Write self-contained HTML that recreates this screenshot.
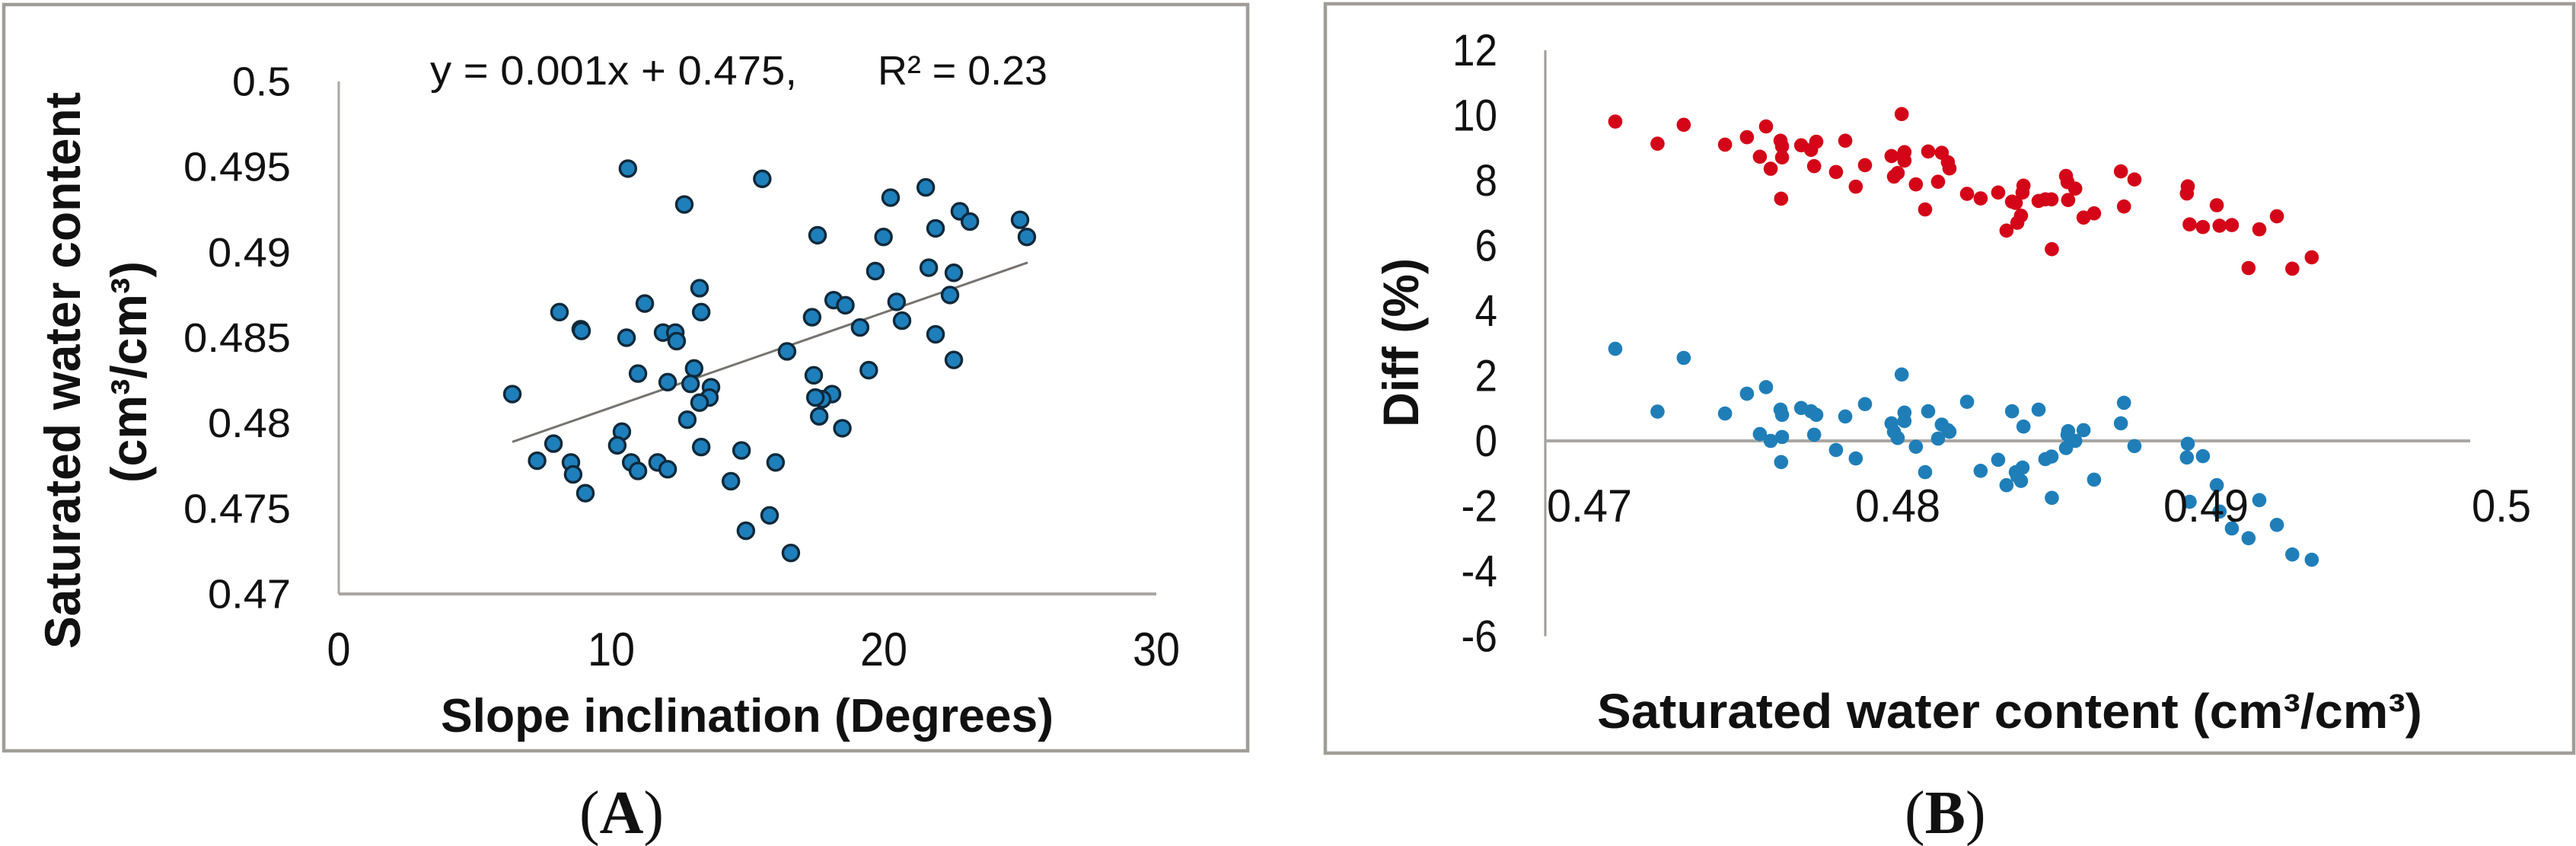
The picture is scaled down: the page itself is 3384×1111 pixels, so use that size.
<!DOCTYPE html>
<html lang="en">
<head>
<meta charset="utf-8">
<title>Saturated water content charts</title>
<style>
html,body{margin:0;padding:0;background:#fff;}
#figure{display:block;width:3384px;height:1111px;}
text{font-family:"Liberation Sans",sans-serif;fill:#111;}
.bold{font-weight:bold;}
.serif{font-family:"Liberation Serif",serif;}
</style>
</head>
<body>
<svg id="figure" xmlns="http://www.w3.org/2000/svg" width="3384" height="1111" viewBox="0 0 3384 1111">
  <rect width="3384" height="1111" fill="#fff"/>
  <rect x="5" y="6" width="1634" height="980" fill="#fff" stroke="#a09d97" stroke-width="4.5"/>
  <rect x="1741" y="5" width="1640" height="984" fill="#fff" stroke="#a09d97" stroke-width="4.5"/>
  <g id="panelA"></g>
  <g id="panelB"></g>

  <text x="565" y="111" font-size="54" textLength="482" lengthAdjust="spacingAndGlyphs">y = 0.001x + 0.475,</text>
  <text x="1153" y="111" font-size="54" textLength="223" lengthAdjust="spacingAndGlyphs">R² = 0.23</text>
  <text class="bold" font-size="66" transform="translate(105,852) rotate(-90)" textLength="731" lengthAdjust="spacingAndGlyphs">Saturated water content</text>
  <text class="bold" font-size="66" transform="translate(192,634) rotate(-90)" textLength="291" lengthAdjust="spacingAndGlyphs">(cm³/cm³)</text>
  <text class="bold" x="579" y="961" font-size="62" textLength="805" lengthAdjust="spacingAndGlyphs">Slope inclination (Degrees)</text>
  <text class="bold" font-size="66" transform="translate(1863,561) rotate(-90)" textLength="222" lengthAdjust="spacingAndGlyphs">Diff (%)</text>
  <text class="bold" x="2098" y="956" font-size="64" textLength="1084" lengthAdjust="spacingAndGlyphs">Saturated water content (cm³/cm³)</text>
  <text class="serif" x="761" y="1094" font-size="80">(<tspan font-weight="bold">A</tspan>)</text>
  <text class="serif" x="2502" y="1094" font-size="80">(<tspan font-weight="bold">B</tspan>)</text>
</svg>
<script>
// Panel A data
const slopeTickValues = [0, 10, 20, 30];
const contentTickValues = [0.47, 0.475, 0.48, 0.485, 0.49, 0.495, 0.5];
const slopeDegrees = [
  10.61,12.68,11.23,8.10,8.88,8.91,10.56,11.90,12.35,12.40,
  10.98,12.07,6.37,15.54,20.25,21.54,22.79,23.16,25.00,25.25,
  17.57,19.99,21.90,19.69,21.65,22.57,13.24,13.30,18.16,18.59,
  20.47,22.43,17.37,20.67,19.13,21.90,22.57,16.45,19.45,17.43,
  18.10,17.74,17.49,17.63,18.48,13.04,12.91,13.66,13.60,13.24,
  12.79,7.88,7.28,8.52,8.60,9.05,10.39,10.22,10.73,10.98,
  11.70,12.07,13.30,14.78,16.03,14.39,15.81,14.94,16.59
];
const contentBySlope = [
  .4949,.4928,.4870,.4865,.4855,.4854,.4850,.4853,.4853,.4848,
  .4829,.4824,.4817,.4943,.4932,.4938,.4924,.4918,.4919,.4909,
  .4910,.4909,.4914,.4889,.4891,.4888,.4879,.4865,.4872,.4869,
  .4871,.4875,.4862,.4860,.4856,.4852,.4837,.4842,.4831,.4828,
  .4817,.4814,.4815,.4804,.4797,.4832,.4823,.4821,.4815,.4812,
  .4802,.4788,.4778,.4777,.4770,.4759,.4795,.4787,.4777,.4772,
  .4777,.4773,.4786,.4784,.4777,.4766,.4746,.4737,.4724
];
const trendSlope = [6.37, 25.28];
const trendContent = [0.4789, 0.4894];

// Panel B data
const ksTickValues = [0.47, 0.48, 0.49, 0.5];
const diffTickValues = [-6, -4, -2, 0, 2, 4, 6, 8, 10, 12];
const ksValues = [
  .47227,.47364,.47449,.47583,.47654,.47716,.47696,.47731,.47763,.47768,
  .47768,.47765,.4783,.47862,.47879,.47872,.47973,.47943,.48037,.48007,
  .48156,.48123,.48165,.48165,.48143,.48131,.48242,.48286,.48306,.48311,
  .48202,.48274,.48232,.48368,.48412,.48469,.48551,.48548,.48514,.48526,
  .48543,.48531,.48496,.486,.48622,.48642,.48643,.48696,.48689,.48694,
  .48719,.48746,.4878,.48867,.48911,.48877,.49084,.49081,.4909,.49133,
  .49178,.49187,.49227,.49316,.49373,.49281,.49423,.49486
];
const redDiff = [
  9.81,9.13,9.71,9.10,9.33,9.66,8.73,8.36,9.22,9.05,
  8.71,7.44,9.08,8.94,9.19,8.44,9.22,8.26,8.47,7.81,
  10.04,8.75,8.87,8.61,8.23,8.12,8.89,8.85,8.56,8.37,
  7.88,7.96,7.11,7.59,7.45,7.63,7.84,7.63,7.35,7.31,
  6.92,6.70,6.46,7.37,7.42,7.42,5.89,7.40,8.14,7.95,
  7.75,6.86,6.99,8.28,8.03,7.20,7.82,7.60,6.65,6.57,
  7.24,6.61,6.63,6.50,6.90,5.31,5.29,5.64
];
const blueDiff = [
  2.83,.90,2.55,.84,1.45,1.65,.21,0,.96,.80,
  .12,-.65,1.01,.91,.80,.19,.75,-.28,1.13,-.54,
  2.04,.54,.87,.61,.09,.28,.91,.50,.33,.28,
  -.18,.07,-.96,1.20,-.92,-.58,.44,-.82,.91,-.96,
  -1.23,-1.08,-1.36,.96,-.56,-.48,-1.75,.30,-.22,.19,
  0,.33,-1.19,.54,-.16,1.17,-.09,-.51,-1.87,-.47,
  -1.36,-2.17,-2.69,-1.82,-2.58,-2.99,-3.49,-3.65
];

const NS = 'http://www.w3.org/2000/svg';
const groupA = document.getElementById('panelA');
const groupB = document.getElementById('panelB');

function sxA(v) { return 445 + (v - 0) * (1519 - 445) / 30; }
function syA(v) { return 780 - (v - 0.47) * (780 - 107) / 0.03; }
function sxB(v) { return 2030 + (v - 0.47) * (3245 - 2030) / 0.03; }
function syB(v) { return 579 - v * 42.75; }

function drawLine(parent, x1, y1, x2, y2, color, width, name) {
  const el = document.createElementNS(NS, 'line');
  el.setAttribute('x1', x1);
  el.setAttribute('y1', y1);
  el.setAttribute('x2', x2);
  el.setAttribute('y2', y2);
  el.setAttribute('stroke', color);
  el.setAttribute('stroke-width', width);
  
  
  parent.appendChild(el);
}

function drawDot(parent, cx, cy, r, fill, stroke, strokeWidth, name) {
  const el = document.createElementNS(NS, 'circle');
  el.setAttribute('cx', cx);
  el.setAttribute('cy', cy);
  el.setAttribute('r', r);
  el.setAttribute('fill', fill);
  if (stroke) {
    el.setAttribute('stroke', stroke);
    el.setAttribute('stroke-width', strokeWidth);
  }
  
  
  parent.appendChild(el);
}

function labelWidth(label, digit, dot, dash) {
  let w = 0;
  for (const c of label) {
    w += c === '.' ? dot : c === '-' ? dash : digit;
  }
  return w;
}

function drawTick(parent, x, y, label, size, anchor, digit, dot, dash, name) {
  const el = document.createElementNS(NS, 'text');
  el.setAttribute('x', x);
  el.setAttribute('y', y);
  el.setAttribute('font-size', size);
  el.setAttribute('text-anchor', anchor);
  el.setAttribute('textLength', labelWidth(label, digit, dot, dash));
  el.setAttribute('lengthAdjust', 'spacingAndGlyphs');
  
  
  el.textContent = label;
  parent.appendChild(el);
}

// Panel A axes
drawLine(groupA, sxA(0), syA(0.5), sxA(0), syA(0.47), '#aaa7a2', 3, 'panel-a-y-axis-line');
drawLine(groupA, sxA(0), syA(0.47), sxA(30), syA(0.47), '#aaa7a2', 4, 'panel-a-x-axis-line');
contentTickValues.forEach(function (v) {
  drawTick(groupA, 382, syA(v) + 18.5, String(v), 54, 'end', 32, 13, 18, 'panel-a-y-tick-label');
});
slopeTickValues.forEach(function (v) {
  drawTick(groupA, sxA(v), 874, String(v), 62, 'middle', 31, 13, 18, 'panel-a-x-tick-label');
});

// Panel A trend line and markers
drawLine(groupA, sxA(trendSlope[0]), syA(trendContent[0]), sxA(trendSlope[1]), syA(trendContent[1]), '#77736d', 3, 'trendline');
slopeDegrees.forEach(function (v, i) {
  drawDot(groupA, sxA(v), syA(contentBySlope[i]), 10.5, '#1e7fbb', '#10293a', 3.4, 'slope-point');
});

// Panel B axes
drawLine(groupB, sxB(0.47), syB(12), sxB(0.47), syB(-6), '#a09d97', 3, 'panel-b-y-axis-line');
drawLine(groupB, sxB(0.47), syB(0), sxB(0.5), syB(0), '#aaa7a2', 4, 'panel-b-x-axis-line');

// Panel B series
ksValues.forEach(function (v, i) {
  drawDot(groupB, sxB(v), syB(redDiff[i]), 9.3, '#d40518', null, 0, 'red-series-point');
});
ksValues.forEach(function (v, i) {
  drawDot(groupB, sxB(v), syB(blueDiff[i]), 9.3, '#1f7eb8', null, 0, 'blue-series-point');
});

// Panel B tick labels sit above the points
diffTickValues.forEach(function (v) {
  drawTick(groupB, 1967, syB(v) + 20, String(v), 58, 'end', 29.5, 10, 18, 'panel-b-y-tick-label');
});
ksTickValues.forEach(function (v) {
  drawTick(groupB, sxB(v) + 2, 685, String(v), 60, 'start', 34, 10, 18, 'panel-b-x-tick-label');
});
</script>
</body>
</html>
